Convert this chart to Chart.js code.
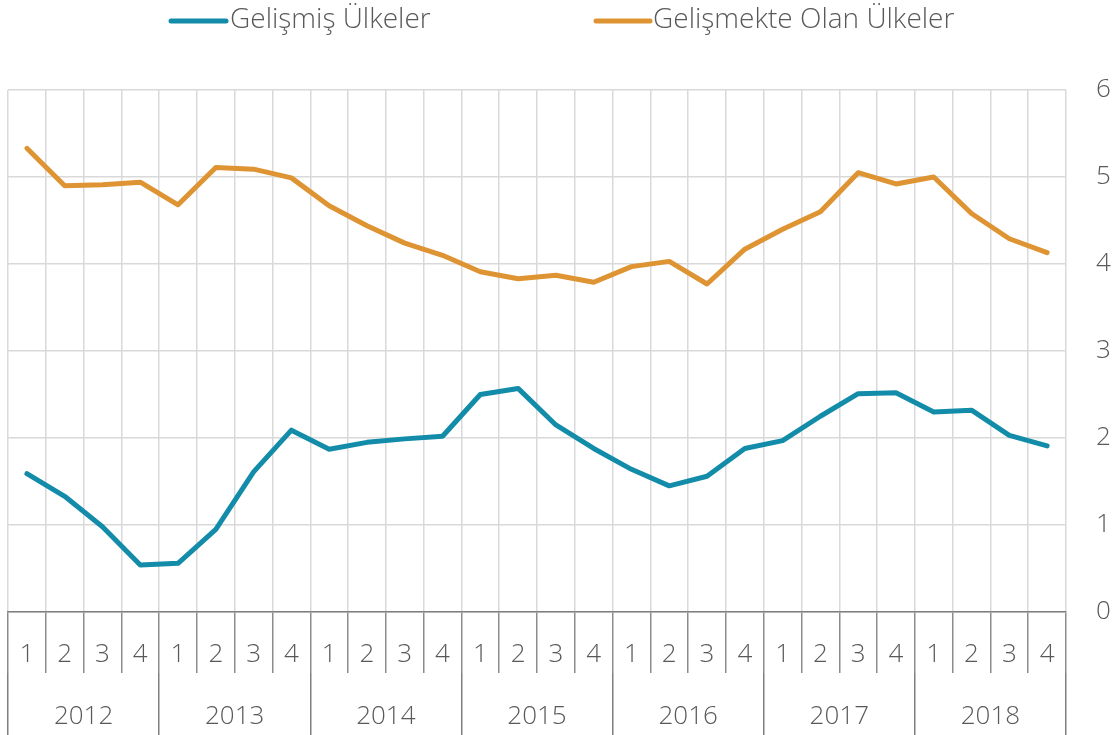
<!DOCTYPE html>
<html>
<head>
<meta charset="utf-8">
<script src="https://cdn.jsdelivr.net/npm/chart.js@4"></script>
<style>
  html, body { margin: 0; padding: 0; background: #fff; }
  #wrap { width: 1117px; height: 735px; }
</style>
</head>
<body>
<div id="wrap"><canvas id="chart" width="1117" height="735"></canvas></div>
<script>
// Çeyrekler ve yıllar
const quarters = ['1','2','3','4','1','2','3','4','1','2','3','4','1','2','3','4',
                  '1','2','3','4','1','2','3','4','1','2','3','4'];
const years = ['2012', '2013', '2014', '2015', '2016', '2017', '2018'];

// Gelişmiş Ülkeler
const gelismis = [1.59, 1.33, 0.98, 0.54, 0.56, 0.95, 1.61, 2.09,
                  1.87, 1.95, 1.99, 2.02, 2.50, 2.57, 2.15, 1.88,
                  1.64, 1.45, 1.56, 1.88, 1.97, 2.25, 2.51, 2.52,
                  2.30, 2.32, 2.03, 1.91];

// Gelişmekte Olan Ülkeler
const gelismekte = [5.33, 4.90, 4.91, 4.94, 4.68, 5.11, 5.09, 4.99,
                    4.67, 4.44, 4.24, 4.10, 3.91, 3.83, 3.87, 3.79,
                    3.97, 4.03, 3.77, 4.17, 4.40, 4.60, 5.05, 4.92,
                    5.00, 4.58, 4.29, 4.13];

const yTicks = [0, 1, 2, 3, 4, 5, 6];

const textColor = '#595959';
const fontFamily = '"Open Sans", "DejaVu Sans", sans-serif';

// Lejant: çizgi + metin, üstte
const legendPlugin = {
    id: 'topLegend',
    afterDraw(chart) {
        const ctx = chart.ctx;
        const spots = [{ x1: 171, x2: 226, tx: 230 }, { x1: 596, x2: 650, tx: 653 }];
        ctx.save();
        ctx.font = '300 28px ' + fontFamily;
        ctx.textBaseline = 'middle';
        ctx.fillStyle = textColor;
        chart.data.datasets.forEach((ds, i) => {
            const s = spots[i];
            ctx.beginPath();
            ctx.lineWidth = 5;
            ctx.lineCap = 'round';
            ctx.strokeStyle = ds.borderColor;
            ctx.moveTo(s.x1, 21);
            ctx.lineTo(s.x2, 21);
            ctx.stroke();
            ctx.fillText(ds.label, s.tx, 20);
        });
        ctx.restore();
    }
};

new Chart(document.getElementById('chart'), {
    type: 'line',
    data: {
        labels: quarters,
        datasets: [
            {
                label: 'Gelişmiş Ülkeler',
                data: gelismis,
                borderColor: '#138caa',
                backgroundColor: '#138caa',
                borderWidth: 5,
                borderCapStyle: 'round',
                borderJoinStyle: 'round',
                pointRadius: 0,
                tension: 0
            },
            {
                label: 'Gelişmekte Olan Ülkeler',
                data: gelismekte,
                borderColor: '#de9433',
                backgroundColor: '#de9433',
                borderWidth: 5,
                borderCapStyle: 'round',
                borderJoinStyle: 'round',
                pointRadius: 0,
                tension: 0
            }
        ]
    },
    plugins: [legendPlugin],
    options: {
        responsive: false,
        animation: false,
        layout: { padding: { left: 8, right: 0, top: 90, bottom: 0 } },
        plugins: {
            legend: { display: false },
            tooltip: { enabled: false }
        },
        scales: {
            x: {
                type: 'category',
                position: 'bottom',
                offset: true,
                afterFit(scale) { scale.height = 61; },
                grid: {
                    offset: true,
                    color: '#d9d9d9',
                    tickColor: '#8c8c8c',
                    lineWidth: 1.5,
                    tickLength: 61
                },
                border: { display: true, color: '#7f7f7f', width: 1.5 },
                ticks: {
                    autoSkip: false,
                    maxRotation: 0,
                    padding: -34,
                    color: textColor,
                    font: { family: fontFamily, size: 26, weight: 300 }
                }
            },
            x2: {
                type: 'category',
                position: 'bottom',
                labels: years,
                offset: true,
                afterFit(scale) { scale.height = 62; },
                grid: {
                    offset: true,
                    drawOnChartArea: false,
                    tickColor: '#7f7f7f',
                    lineWidth: 1.5,
                    tickLength: 62
                },
                border: { display: false },
                ticks: {
                    autoSkip: false,
                    maxRotation: 0,
                    padding: -34,
                    color: textColor,
                    font: { family: fontFamily, size: 26, weight: 300 }
                }
            },
            y: {
                position: 'right',
                min: 0,
                max: 6,
                afterFit(scale) { scale.width = 51; },
                afterBuildTicks(scale) {
                    scale.ticks = yTicks.map(v => ({ value: v }));
                },
                grid: {
                    color: '#d9d9d9',
                    lineWidth: 1.5,
                    drawTicks: false
                },
                border: { display: false },
                ticks: {
                    padding: 30,
                    color: textColor,
                    font: { family: fontFamily, size: 26, weight: 300 }
                }
            }
        }
    }
});
</script>
</body>
</html>
